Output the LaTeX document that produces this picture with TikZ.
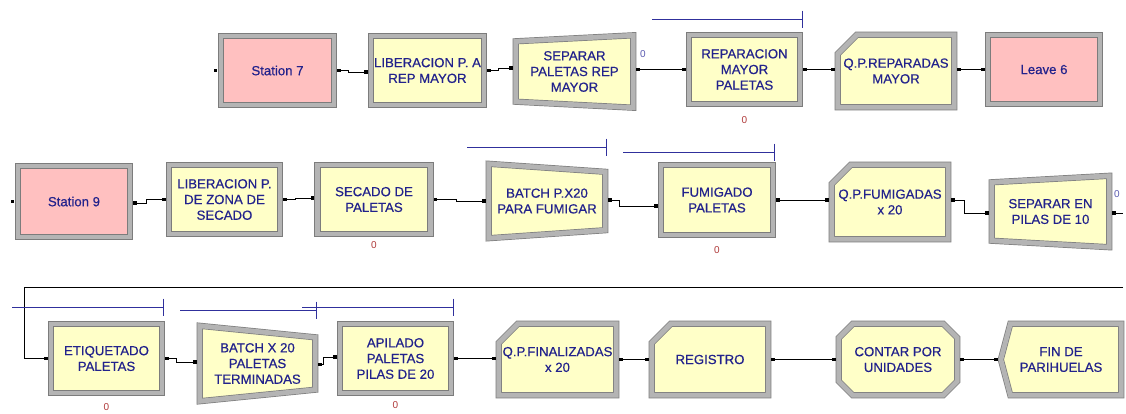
\documentclass[tikz,border=0pt]{standalone}
\usepackage{fontspec}
\setmainfont{Liberation Sans}
\newfontfamily\modfont[FakeBold=0.5]{Liberation Sans}
\usepackage{tikz}
\usetikzlibrary{arrows.meta, positioning, calc, backgrounds}
\definecolor{modyellow}{HTML}{FFFFC8}
\definecolor{modpink}{HTML}{FFC0C0}
\definecolor{framegray}{HTML}{B4B4B4}
\definecolor{edgegray}{HTML}{7C7C7C}
\definecolor{labelnavy}{HTML}{22228C}
\definecolor{queueblue}{HTML}{30309C}
\definecolor{countred}{HTML}{B03A3A}
\tikzset{
    frame/.style={draw=edgegray, double=framegray, double distance=4.8pt, line width=0.7pt, line join=miter, fill=modyellow},
    module/.style={inner sep=0pt, align=center, text=labelnavy, font=\modfont\fontsize{13.2}{15.7}\selectfont, minimum width=112pt, minimum height=69pt},
    procbox/.style={module, rectangle, frame},
    stationbox/.style={module, rectangle, frame, fill=modpink},
    shapedbox/.style={module, rectangle},
    entrypt/.style={fill=black, minimum size=3.5pt, inner sep=0pt},
    conn/.style={draw=black, line width=0.9pt, shorten <=3pt, shorten >=3pt, {Square[length=3.5pt,width=3.5pt]}-{Square[length=3.5pt,width=3.5pt]}},
    connout/.style={conn, {Square[length=3.5pt,width=3.5pt]}-},
    connin/.style={conn, -{Square[length=3.5pt,width=3.5pt]}},
    queueline/.style={draw=queueblue, line width=0.8pt, -{Bar[width=17pt]}},
    counter/.style={text=countred, font=\fontsize{10}{10}\selectfont, inner sep=0pt},
    qcount/.style={text=queueblue!80, font=\fontsize{10}{10}\selectfont, inner sep=0pt}
}
% outlines of the non rectangular modules
\newcommand{\sepframe}[2]{\draw[frame] ($(#1.north west)+(0,#2)$) -- (#1.north east) -- (#1.south east) -- ($(#1.south west)+(0,-#2)$) -- cycle;}
\newcommand{\batframe}[2]{\draw[frame] (#1.north west) -- ($(#1.north east)+(0,#2)$) -- ($(#1.south east)+(0,-#2)$) -- (#1.south west) -- cycle;}
\newcommand{\cutframe}[2]{\draw[frame] ($(#1.north west)+(0,#2)$) -- ($(#1.north west)+(#2,0)$) -- (#1.north east) -- (#1.south east) -- (#1.south west) -- cycle;}
\newcommand{\octframe}[2]{\draw[frame] ($(#1.north west)+(0,#2)$) -- ($(#1.north west)+(#2,0)$) -- ($(#1.north east)+(-#2,0)$) -- ($(#1.north east)+(0,#2)$) -- ($(#1.south east)+(0,-#2)$) -- ($(#1.south east)+(-#2,0)$) -- ($(#1.south west)+(#2,0)$) -- ($(#1.south west)+(0,-#2)$) -- cycle;}
\newcommand{\dispframe}[2]{\draw[frame] ($(#1.north west)+(#2,0)$) -- (#1.north east) -- (#1.south east) -- ($(#1.south west)+(#2,0)$) -- (#1.west) -- cycle;}

\begin{document}
\begin{tikzpicture}[x=1pt, y=-1pt]
    \path[use as bounding box] (0,0) rectangle (1126,413);

    % first line
    \node[stationbox, minimum width=113pt] (stn7) at (277.5,70.5) {Station 7};
    \node[procbox, minimum width=113pt] (lib7) at (427.5,70.5) {LIBERACION P. A\\REP MAYOR};
    \node[shapedbox, minimum width=117pt, minimum height=72pt] (sep7) at (574.5,71.5) {SEPARAR\\PALETAS REP\\MAYOR};
    \node[procbox, minimum width=111pt] (rep) at (744.5,69.5) {REPARACION\\MAYOR\\PALETAS};
    \node[shapedbox, minimum width=116pt, minimum height=72pt] (qprep) at (896,71) {Q.P.REPARADAS\\MAYOR};
    \node[stationbox] (leave6) at (1044,69.5) {Leave 6};
    \node[entrypt, left=3pt of stn7] (stn7in) {};

    \draw[conn] (stn7.east) -- ++(14,0) |- ([yshift=-1.5pt]lib7.west);
    \draw[conn] (lib7.east) -- ++(14,0) |- ([yshift=3.5pt]sep7.west);
    \draw[conn] (sep7.east |- rep.west) -- (rep.west);
    \draw[conn] (rep.east) -- (qprep.west |- rep.east);
    \draw[conn] (qprep.east |- leave6.west) -- (leave6.west);

    \draw[queueline] (652,19) -- (803,19);
    \node[qcount] at (643,54) {0};
    \node[counter, below=12pt of rep] {0};

    % second line
    \node[stationbox, minimum height=71pt] (stn9) at (74,201.5) {Station 9};
    \node[procbox, minimum width=111pt] (lib9) at (224.5,199.5) {LIBERACION P.\\DE ZONA DE\\SECADO};
    \node[procbox, minimum width=113pt] (sec) at (374,199.5) {SECADO DE\\PALETAS};
    \node[shapedbox, minimum width=116pt, minimum height=74pt] (bat1) at (547,201) {BATCH P.X20\\PARA FUMIGAR};
    \node[procbox, minimum height=70pt] (fum) at (717,200) {FUMIGADO\\PALETAS};
    \node[shapedbox, minimum width=116pt, minimum height=74pt] (qpfum) at (890,202) {Q.P.FUMIGADAS\\x 20};
    \node[shapedbox, minimum width=117pt, minimum height=71pt] (sep10) at (1050.5,211.5) {SEPARAR EN\\PILAS DE 10};
    \node[entrypt, left=3pt of stn9] (stn9in) {};
    \coordinate (sep10out) at (1126,213);

    \draw[conn] ([yshift=-1.5pt]stn9.east) -- ++(16,0) |- (lib9.west);
    \draw[conn] (lib9.east) -- ++(15,0) |- ([yshift=1.5pt]sec.west);
    \draw[conn] (sec.east) -- ++(26,0) |- (bat1.west);
    \draw[conn] ([yshift=1pt]bat1.east) -- ++(14,0) |- ([yshift=-6pt]fum.west);
    \draw[conn] (fum.east) -- (fum.east -| qpfum.west);
    \draw[conn] ([yshift=2pt]qpfum.east) -- ++(16,0) |- ([yshift=-1.5pt]sep10.west);
    \draw[connout] ([yshift=-1.5pt]sep10.east) -- (sep10out);

    \draw[queueline] (467,147) -- (607,147);
    \draw[queueline] (623,152) -- (775,152);
    \node[qcount] at (1117,194) {0};
    \node[counter, below=7pt of sec] {0};
    \node[counter, below=11pt of fum] {0};

    % third line
    \node[procbox, minimum width=111pt] (etiq) at (106.5,358.5) {ETIQUETADO\\PALETAS};
    \node[shapedbox, minimum width=115pt, minimum height=75pt] (bat2) at (257.5,363.5) {BATCH X 20\\PALETAS\\TERMINADAS};
    \node[procbox, minimum width=111pt] (api) at (395.5,358.5) {APILADO\\PALETAS\\PILAS DE 20};
    \node[shapedbox, minimum width=117pt, minimum height=71pt] (qpfin) at (557.5,359.5) {Q.P.FINALIZADAS\\x 20};
    \node[shapedbox, minimum width=116pt, minimum height=71pt] (reg) at (710,359.5) {REGISTRO};
    \node[shapedbox, minimum width=118pt, minimum height=71pt] (cont) at (898,359.5) {CONTAR POR\\UNIDADES};
    \node[shapedbox, minimum width=120pt, minimum height=71pt] (fin) at (1061,359.5) {FIN DE\\PARIHUELAS};
    \coordinate (retin) at (1126,287);

    \draw[connin] (retin) -| ($(etiq.west)+(-26,0)$) -- (etiq.west);
    \draw[conn] (etiq.east) -- ++(14,0) |- ([yshift=1.5pt]bat2.west);
    \draw[conn] ([yshift=-1pt]bat2.east) -- ++(8,0) |- ([yshift=1.5pt]api.west);
    \draw[conn] (api.east) -- (api.east -| qpfin.west);
    \draw[conn] (qpfin.east) -- (reg.west);
    \draw[conn] (reg.east) -- (cont.west);
    \draw[conn] (cont.east) -- (fin.west);

    \draw[queueline] (12,307) -- (164,307);
    \draw[queueline] (180,310) -- (317,310);
    \draw[queueline] (302,307) -- (454,307);
    \node[counter, below=10pt of etiq] {0};
    \node[counter, below=8pt of api] {0};

    \begin{scope}[on background layer]
        \fill[white] (0,0) rectangle (1126,413);
        \sepframe{sep7}{6}
        \sepframe{sep10}{6.5}
        \batframe{bat1}{8}
        \batframe{bat2}{11.5}
        \cutframe{qprep}{19}
        \cutframe{qpfum}{19}
        \cutframe{qpfin}{19}
        \cutframe{reg}{19}
        \octframe{cont}{14}
        \dispframe{fin}{9.5}
    \end{scope}
\end{tikzpicture}
\end{document}
